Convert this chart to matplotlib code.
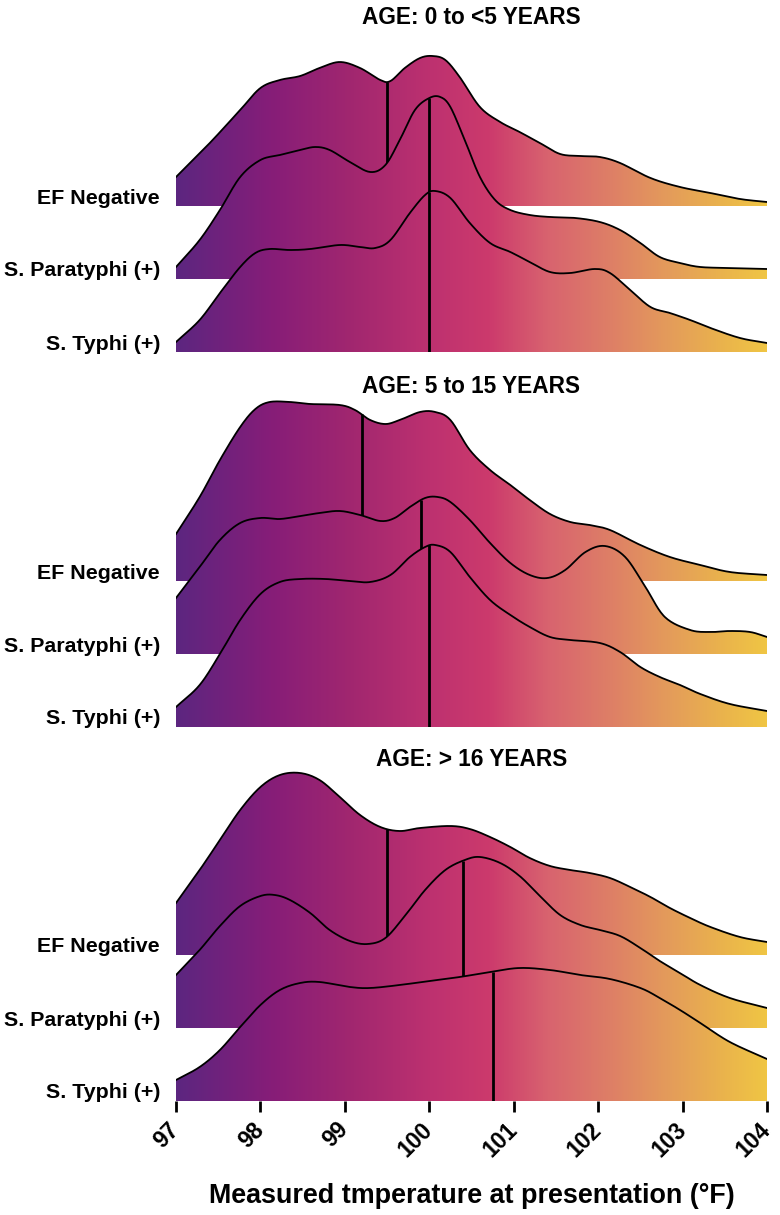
import numpy as np
import matplotlib
matplotlib.use('Agg')
import matplotlib.pyplot as plt
from matplotlib.colors import LinearSegmentedColormap
from matplotlib.patches import Polygon

plt.rcParams['font.family'] = ['Liberation Sans', 'DejaVu Sans']
plt.rcParams['font.weight'] = 'bold'

# ridge heights (1.0 = 100 px, rows are 0.73 apart)
groups = ['EF Negative', 'S. Paratyphi (+)', 'S. Typhi (+)']
panel_titles = ['AGE: 0 to <5 YEARS', 'AGE: 5 to 15 YEARS', 'AGE: > 16 YEARS']

# --- age 0 to <5
t_a_ef = [97.0, 97.4, 97.76, 98.0, 98.23, 98.47, 98.7, 98.94, 99.18, 99.42, 99.54, 99.71, 99.89,
          100.04, 100.19, 100.36, 100.6, 100.84, 101.07, 101.31, 101.55, 101.79, 102.02, 102.26,
          102.62, 102.97, 103.33, 103.68, 104.0]
h_a_ef = [0.29, 0.63, 0.96, 1.18, 1.26, 1.30, 1.38, 1.44, 1.38, 1.26, 1.25, 1.38, 1.48,
          1.50, 1.46, 1.29, 0.99, 0.84, 0.74, 0.63, 0.52, 0.50, 0.49, 0.43,
          0.28, 0.19, 0.13, 0.07, 0.04]
t_a_pa = [97.0, 97.28, 97.52, 97.76, 98.0, 98.23, 98.47, 98.65, 98.82, 99.06, 99.3, 99.48, 99.65,
          99.83, 100.0, 100.13, 100.25, 100.42, 100.6, 100.78, 100.96, 101.19, 101.43, 101.73,
          102.02, 102.26, 102.5, 102.73, 102.97, 103.21, 103.56, 104.0]
h_a_pa = [0.12, 0.39, 0.69, 1.02, 1.19, 1.24, 1.29, 1.32, 1.29, 1.17, 1.07, 1.14, 1.39,
          1.69, 1.81, 1.82, 1.72, 1.39, 1.02, 0.79, 0.69, 0.64, 0.62, 0.61,
          0.57, 0.49, 0.36, 0.22, 0.16, 0.12, 0.11, 0.10]
t_a_ty = [97.0, 97.28, 97.52, 97.76, 97.94, 98.11, 98.35, 98.59, 98.94, 99.18, 99.36, 99.54, 99.77,
          99.95, 100.07, 100.25, 100.48, 100.72, 100.96, 101.19, 101.43, 101.67, 101.96, 102.14,
          102.38, 102.62, 102.85, 103.09, 103.33, 103.68, 104.0]
h_a_ty = [0.10, 0.32, 0.59, 0.85, 0.99, 1.03, 1.02, 1.03, 1.07, 1.05, 1.04, 1.12, 1.39,
          1.57, 1.61, 1.54, 1.29, 1.09, 1.00, 0.90, 0.80, 0.79, 0.83, 0.79,
          0.62, 0.45, 0.39, 0.32, 0.24, 0.14, 0.09]

# --- age 5 to 15
t_b_ef = [97.0, 97.28, 97.52, 97.76, 97.94, 98.11, 98.35, 98.59, 98.94, 99.12, 99.3, 99.48, 99.65,
          99.89, 100.07, 100.25, 100.48, 100.72, 100.96, 101.19, 101.43, 101.67, 101.9, 102.14,
          102.5, 102.85, 103.21, 103.56, 104.0]
h_b_ef = [0.47, 0.84, 1.21, 1.54, 1.72, 1.79, 1.79, 1.77, 1.76, 1.71, 1.61, 1.57, 1.61,
          1.69, 1.69, 1.61, 1.31, 1.11, 0.96, 0.81, 0.67, 0.59, 0.56, 0.51,
          0.36, 0.24, 0.16, 0.09, 0.06]
t_b_pa = [97.0, 97.28, 97.52, 97.76, 98.0, 98.23, 98.47, 98.7, 98.94, 99.18, 99.42, 99.59, 99.77,
          99.95, 100.1, 100.25, 100.48, 100.72, 100.96, 101.19, 101.4, 101.61, 101.85, 102.08,
          102.32, 102.56, 102.79, 103.09, 103.33, 103.56, 103.8, 104.0]
h_b_pa = [0.56, 0.87, 1.14, 1.31, 1.36, 1.35, 1.38, 1.41, 1.43, 1.39, 1.33, 1.36, 1.47,
          1.56, 1.57, 1.52, 1.34, 1.11, 0.91, 0.79, 0.76, 0.84, 1.02, 1.08,
          0.97, 0.67, 0.37, 0.24, 0.22, 0.23, 0.22, 0.17]
t_b_ty = [97.0, 97.28, 97.52, 97.76, 98.0, 98.23, 98.47, 98.77, 99.06, 99.3, 99.54, 99.77, 99.95,
          100.07, 100.25, 100.48, 100.72, 100.96, 101.19, 101.43, 101.67, 102.02, 102.26, 102.5,
          102.73, 102.97, 103.21, 103.56, 104.0]
h_b_ty = [0.20, 0.42, 0.73, 1.07, 1.33, 1.45, 1.48, 1.48, 1.46, 1.45, 1.52, 1.70, 1.80,
          1.82, 1.75, 1.50, 1.27, 1.12, 1.00, 0.90, 0.87, 0.84, 0.75, 0.60,
          0.50, 0.42, 0.33, 0.23, 0.16]

# --- age > 16
t_c_ef = [97.0, 97.28, 97.52, 97.76, 98.0, 98.23, 98.47, 98.7, 98.94, 99.18, 99.42, 99.65, 99.89,
          100.25, 100.48, 100.72, 100.96, 101.19, 101.43, 101.67, 101.9, 102.14, 102.38, 102.62,
          102.85, 103.09, 103.33, 103.68, 104.0]
h_c_ef = [0.52, 0.85, 1.15, 1.45, 1.68, 1.80, 1.82, 1.75, 1.58, 1.40, 1.28, 1.24, 1.27,
          1.29, 1.26, 1.18, 1.08, 0.97, 0.89, 0.85, 0.82, 0.77, 0.68, 0.58,
          0.47, 0.37, 0.28, 0.18, 0.13]
t_c_pa = [97.0, 97.28, 97.52, 97.76, 98.0, 98.17, 98.35, 98.59, 98.82, 99.06, 99.27, 99.48, 99.71,
          99.95, 100.19, 100.42, 100.6, 100.84, 101.07, 101.31, 101.55, 101.79, 102.02, 102.26,
          102.5, 102.73, 102.97, 103.21, 103.56, 104.0]
h_c_pa = [0.53, 0.78, 1.02, 1.22, 1.32, 1.33, 1.28, 1.15, 0.98, 0.87, 0.84, 0.90, 1.12,
          1.38, 1.58, 1.68, 1.71, 1.65, 1.52, 1.32, 1.13, 1.03, 0.98, 0.92,
          0.80, 0.67, 0.55, 0.43, 0.30, 0.20]
t_c_ty = [97.0, 97.28, 97.52, 97.76, 98.0, 98.23, 98.47, 98.7, 99.06, 99.3, 99.65, 100.0, 100.36,
          100.72, 101.07, 101.43, 101.79, 102.14, 102.5, 102.73, 102.97, 103.21, 103.56, 104.0]
h_c_ty = [0.21, 0.34, 0.51, 0.74, 0.96, 1.11, 1.18, 1.19, 1.14, 1.13, 1.16, 1.20, 1.24,
          1.29, 1.33, 1.31, 1.26, 1.22, 1.13, 1.03, 0.91, 0.78, 0.59, 0.42]

medians = [[99.5, 100.0, 100.0],
           [99.2, 99.9, 100.0],
           [99.5, 100.4, 100.75]]

panels = [[(t_a_ef, h_a_ef), (t_a_pa, h_a_pa), (t_a_ty, h_a_ty)],
          [(t_b_ef, h_b_ef), (t_b_pa, h_b_pa), (t_b_ty, h_b_ty)],
          [(t_c_ef, h_c_ef), (t_c_pa, h_c_pa), (t_c_ty, h_c_ty)]]

grad = LinearSegmentedColormap.from_list('fever', [
    (0.00, '#5c2680'), (0.16, '#861d78'), (0.30, '#a2276f'), (0.43, '#bd3170'),
    (0.53, '#cc3a6c'), (0.63, '#d8636f'), (0.74, '#de8066'), (0.84, '#e49d5a'),
    (0.93, '#eab44c'), (1.00, '#f0c544')])


def catmull(xs, ys, n=16):
    # smooth path through the read points
    x = np.asarray(xs, float)
    y = np.asarray(ys, float)
    px = np.concatenate([[2 * x[0] - x[1]], x, [2 * x[-1] - x[-2]]])
    py = np.concatenate([[2 * y[0] - y[1]], y, [2 * y[-1] - y[-2]]])
    ox, oy = [], []
    t = np.linspace(0, 1, n, endpoint=False)
    for i in range(1, len(px) - 2):
        for arr, out in ((px, ox), (py, oy)):
            p0, p1, p2, p3 = arr[i - 1], arr[i], arr[i + 1], arr[i + 2]
            out.extend(0.5 * (2 * p1 + (-p0 + p2) * t + (2 * p0 - 5 * p1 + 4 * p2 - p3) * t ** 2
                              + (-p0 + 3 * p1 - 3 * p2 + p3) * t ** 3))
    ox.append(x[-1])
    oy.append(y[-1])
    return np.array(ox), np.array(oy)


W, H = 780, 1215
fig = plt.figure(figsize=(W / 100, H / 100), dpi=100)

# pixel geometry of each panel: (bottom baseline, top of axes, title y)
geom = [(352, 28, 17), (727, 396, 386), (1101, 766, 760)]
step = 0.73
left_px, right_px = 176, 767

axes = []
for p, (bot, top, ty) in enumerate(geom):
    ax = fig.add_axes([left_px / W, 1 - bot / H, (right_px - left_px) / W, (bot - top) / H])
    ymax = (bot - top) / 100
    ax.set_xlim(97, 104)
    ax.set_ylim(0, ymax)
    for s in ax.spines.values():
        s.set_visible(False)
    ax.set_yticks([])
    ax.patch.set_alpha(0)
    for r, (tx, hy) in enumerate(panels[p]):
        base = (2 - r) * step
        z = 2 + r * 3
        cx, cy = catmull(tx, hy)
        cy = np.clip(cy, 0, None) + base
        verts = np.column_stack([np.concatenate([cx, [104, 97]]),
                                 np.concatenate([cy, [base, base]])])
        poly = Polygon(verts, closed=True, facecolor='none', edgecolor='none')
        ax.add_patch(poly)
        img = ax.imshow(np.linspace(0, 1, 512)[None, :], cmap=grad, aspect='auto',
                        extent=[97, 104, 0, ymax], zorder=z, interpolation='bilinear')
        img.set_clip_path(poly)
        ax.plot(cx, cy, color='black', lw=1.3, zorder=z + 1.2)
        m = medians[p][r]
        ax.plot([m, m], [base, np.interp(m, cx, cy)], color='black', lw=2.0,
                zorder=z + 1, solid_capstyle='butt')
        fig.text(160 / W, 1 - (bot - (2 - r) * 73 - 8) / H, groups[r], ha='right',
                 va='center', fontsize=15.4, fontweight='bold')
    fig.text((left_px + right_px) / 2 / W, 1 - ty / H, panel_titles[p], ha='center',
             va='center', fontsize=16.3, fontweight='bold')
    if p < 2:
        ax.set_xticks([])
    axes.append(ax)

ax = axes[2]
ax.set_xticks(range(97, 105))
ax.tick_params(axis='x', length=8, width=2, color='black', pad=10, labelsize=16.5)
for lab in ax.get_xticklabels():
    lab.set_rotation(45)
    lab.set_ha('right')
    lab.set_va('center')
    lab.set_rotation_mode('anchor')
    lab.set_fontweight('bold')

fig.text((left_px + right_px) / 2 / W, 1 - 1196 / H,
         'Measured tmperature at presentation (°F)', ha='center', va='center',
         fontsize=19.4, fontweight='bold')

fig.savefig('out.png', dpi=100)
